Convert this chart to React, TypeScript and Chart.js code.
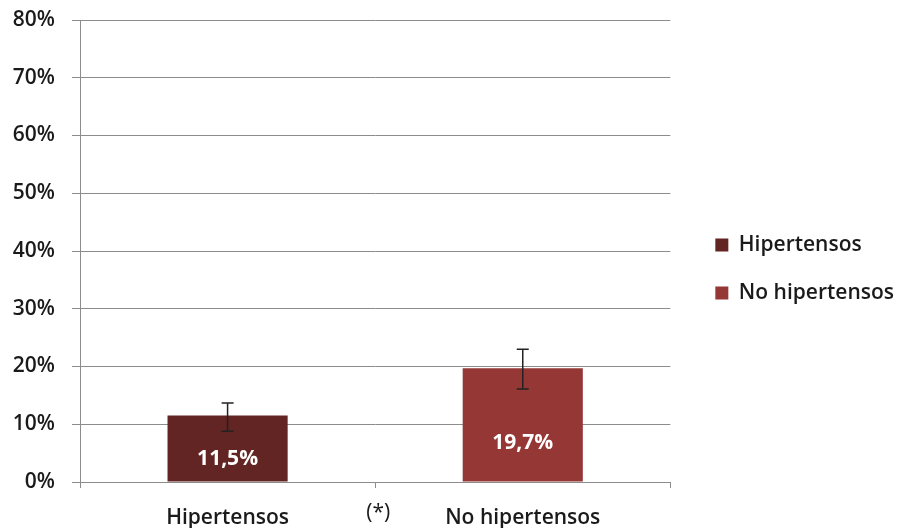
import React, { useEffect, useRef } from "react";
import { Chart, registerables } from "chart.js";

Chart.register(...registerables);

const categories = ["Hipertensos", "No hipertensos"];
const values = [11.5, 19.7];
const errLow = [8.8, 16.1];
const errHigh = [13.7, 23.0];
const barColors = ["#632523", "#953735"];
const yTicks = [0, 10, 20, 30, 40, 50, 60, 70, 80];
const significanceMark = "(*)";

const FONT = "'Open Sans', 'DejaVu Sans', sans-serif";
const TEXT = "#1a1a1a";
const GRID = "#8c8c8c";

const fmt = (v: number) => v.toFixed(1).replace(".", ",") + "%";

const extrasPlugin = {
  id: "extras",
  afterDatasetsDraw(chart: any) {
    const ctx = chart.ctx;
    const meta = chart.getDatasetMeta(0);
    const ys = chart.scales.y;
    const xs = chart.scales.x;
    ctx.save();
    ctx.strokeStyle = "#222222";
    ctx.lineWidth = 1.5;
    meta.data.forEach((bar: any, i: number) => {
      const x = bar.x;
      const yl = ys.getPixelForValue(errLow[i]);
      const yh = ys.getPixelForValue(errHigh[i]);
      ctx.beginPath();
      ctx.moveTo(x, yl);
      ctx.lineTo(x, yh);
      ctx.moveTo(x - 6, yl);
      ctx.lineTo(x + 6, yl);
      ctx.moveTo(x - 6, yh);
      ctx.lineTo(x + 6, yh);
      ctx.stroke();
    });
    ctx.fillStyle = "#ffffff";
    ctx.font = `bold 21px ${FONT}`;
    ctx.textAlign = "center";
    ctx.textBaseline = "middle";
    meta.data.forEach((bar: any, i: number) => {
      ctx.fillText(fmt(values[i]), bar.x, ys.getPixelForValue(values[i] * 0.34));
    });
    const xm = (xs.getPixelForValue(0) + xs.getPixelForValue(1)) / 2;
    ctx.fillStyle = TEXT;
    ctx.font = `400 21px ${FONT}`;
    ctx.textBaseline = "middle";
    ctx.fillText(significanceMark, xm + 3, 513);
    ctx.restore();
  },
};

export default function App() {
  const ref = useRef<HTMLCanvasElement>(null);
  useEffect(() => {
    if (!ref.current) return;
    const chart = new Chart(ref.current, {
      type: "bar",
      data: {
        labels: categories,
        datasets: [
          {
            data: values,
            backgroundColor: barColors,
            borderWidth: 0,
            barPercentage: 0.407,
            categoryPercentage: 1,
          },
        ],
      },
      plugins: [extrasPlugin],
      options: {
        animation: false,
        responsive: false,
        devicePixelRatio: 1,
        layout: { padding: { top: 10, left: 0, right: -5, bottom: 0 } },
        plugins: {
          tooltip: { enabled: false },
          legend: {
            position: "right",
            labels: {
              boxWidth: 13,
              boxHeight: 13,
              padding: 27,
              color: TEXT,
              font: { family: FONT, size: 21, weight: "600" as any },
              generateLabels: () =>
                categories.map((c, i) => ({
                  text: c,
                  fillStyle: barColors[i],
                  strokeStyle: barColors[i],
                  lineWidth: 0,
                  hidden: false,
                  index: i,
                  fontColor: TEXT,
                })),
            },
          },
        },
        scales: {
          x: {
            grid: {
              display: true,
              offset: true,
              drawOnChartArea: false,
              drawTicks: true,
              tickLength: 6,
              color: GRID,
            },
            border: { display: true, color: GRID },
            ticks: {
              color: TEXT,
              padding: 17,
              font: { family: FONT, size: 21, weight: "600" as any },
            },
            afterFit: (s: any) => {
              s.height = 46;
            },
          },
          y: {
            min: 0,
            max: 80,
            afterBuildTicks: (s: any) => {
              s.ticks = yTicks.map((v) => ({ value: v }));
            },
            grid: { color: GRID, tickLength: 8 },
            border: { display: true, color: GRID },
            ticks: {
              color: TEXT,
              padding: 17,
              font: { family: FONT, size: 21, weight: "600" as any },
              callback: (v: any) => v + "%",
            },
            afterFit: (s: any) => {
              s.width = 80;
              s.paddingTop = 20;
              s.paddingBottom = 0;
            },
          },
          yR: {
            position: "right",
            display: false,
            afterFit: (s: any) => {
              s.width = 18;
            },
          },
        },
      },
    });
    return () => chart.destroy();
  }, []);
  return (
    <div style={{ position: "fixed", left: 0, top: 0, width: 899, height: 528, background: "#fff" }}>
      <canvas ref={ref} width={899} height={528} style={{ display: "block" }} />
    </div>
  );
}
